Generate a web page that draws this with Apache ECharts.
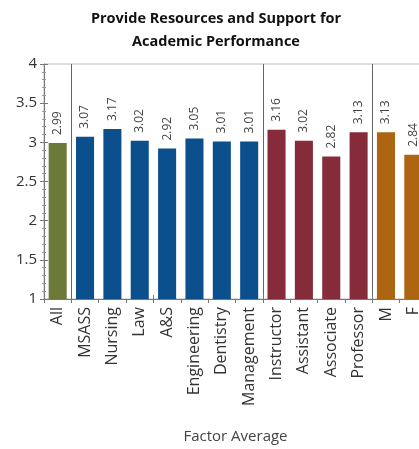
<!DOCTYPE html>
<html><head><meta charset="utf-8">
<script src="https://cdn.jsdelivr.net/npm/echarts@6/dist/echarts.min.js"></script>
<style>html,body{margin:0;padding:0;overflow:hidden;background:#fff}#c{width:432px;height:449px}</style>
</head><body><div id="c"></div>
<script>
const categories = ["All","MSASS","Nursing","Law","A&S","Engineering","Dentistry","Management","Instructor","Assistant","Associate","Professor","M","F"];
const values = [2.99,3.07,3.17,3.02,2.92,3.05,3.01,3.01,3.16,3.02,2.82,3.13,3.13,2.84];
const groupOf = ["all","school","school","school","school","school","school","school","rank","rank","rank","rank","gender","gender"];
const groupColors = {all:"#6b7a38", school:"#0b4f8c", rank:"#862b39", gender:"#ad6512"};
const separators = [1,8,12];
const yTicks = [1,1.5,2,2.5,3,3.5,4];
const FONT = "Open Sans";

const chart = echarts.init(document.getElementById('c'));
chart.setOption({
  animation:false,
  textStyle:{fontFamily:FONT},
  title:{text:"Provide Resources and Support for\nAcademic Performance", left:211, textAlign:'center', top:2,
    textStyle:{fontFamily:FONT,fontSize:14.5,fontWeight:'bold',color:'#111',lineHeight:23}},
  grid:{left:44,right:5,top:64,bottom:147,show:true,borderColor:'#bbb',borderWidth:1},
  xAxis:[{type:'category',data:categories,
    axisLine:{lineStyle:{color:'#777'}},
    axisTick:{show:true,length:4,lineStyle:{color:'#777'}},
    axisLabel:{rotate:90,fontSize:16,color:'#333',margin:8,fontFamily:FONT},
    splitLine:{show:true,interval:(i)=>separators.includes(i),lineStyle:{color:'#666',width:1}},
    name:'Factor Average',nameLocation:'middle',nameGap:130,
    nameTextStyle:{fontSize:15,color:'#444',fontFamily:FONT}},
   {type:'category',data:categories,position:'bottom',
    axisLine:{show:false},axisTick:{show:true,inside:true,length:4,lineStyle:{color:'#777'}},
    axisLabel:{show:false},splitLine:{show:false}}],
  yAxis:[{type:'value',min:1,max:4,interval:0.5,
    axisLine:{show:true,lineStyle:{color:'#777'}},
    axisTick:{show:true,length:4,lineStyle:{color:'#777'}},
    minorTick:{show:true,splitNumber:5,length:2,lineStyle:{color:'#999'}},
    axisLabel:{fontSize:15,color:'#333',margin:7,fontFamily:FONT,formatter:v=>yTicks.includes(v)?String(v):''},
    splitLine:{show:false}},
   {type:'value',min:1,max:4,interval:0.5,position:'left',
    axisLine:{show:false},axisTick:{show:true,inside:true,length:4,lineStyle:{color:'#777'}},
    minorTick:{show:true,splitNumber:5,length:2,lineStyle:{color:'#999'}},
    axisLabel:{show:false},splitLine:{show:false}}],
  series:[{type:'bar',barWidth:'66%',
    data:values.map((v,i)=>({value:v,itemStyle:{color:groupColors[groupOf[i]]}})),
    label:{show:true,position:'top',rotate:90,align:'left',verticalAlign:'middle',distance:8,
      fontSize:12,color:'#444',fontFamily:FONT,formatter:p=>p.value.toFixed(2)}}]
});
</script></body></html>
